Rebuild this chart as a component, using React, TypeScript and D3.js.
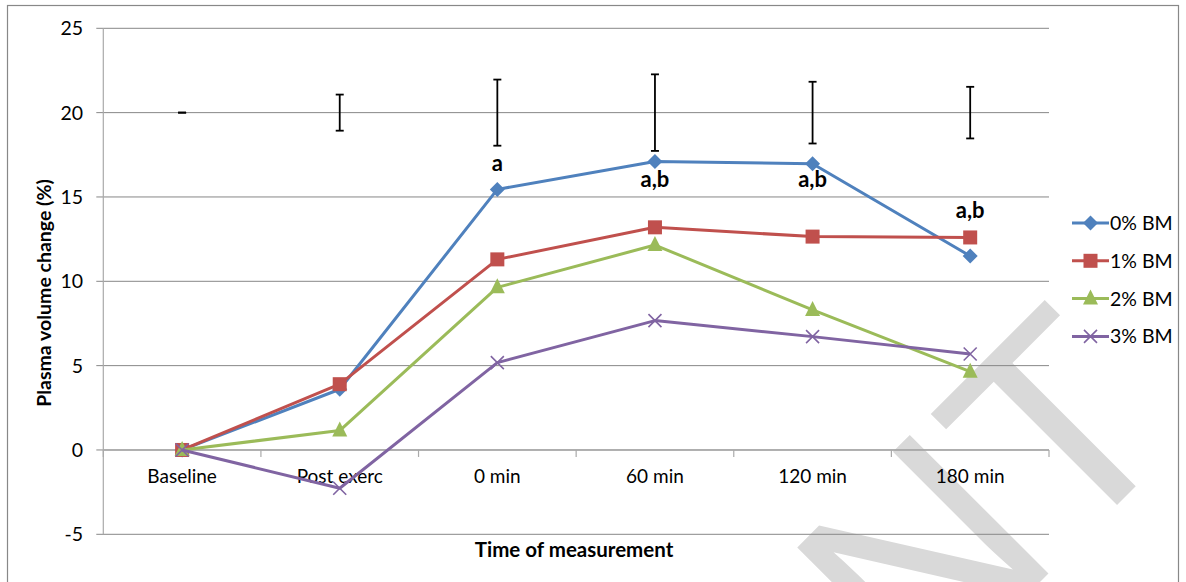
import React from "react";
import * as d3 from "d3";

const categories = ["Baseline", "Post exerc", "0 min", "60 min", "120 min", "180 min"];
const seriesNames = ["0% BM", "1% BM", "2% BM", "3% BM"];
const bm0 = [0, 3.6, 15.45, 17.1, 16.97, 11.5];
const bm1 = [0, 3.9, 11.3, 13.2, 12.65, 12.6];
const bm2 = [0, 1.15, 9.64, 12.15, 8.3, 4.64];
const bm3 = [0, -2.27, 5.18, 7.67, 6.72, 5.69];
const errMean = [20, 20, 20, 20, 20, 20];
const errSD = [0, 1.07, 1.96, 2.27, 1.83, 1.53];
const sigLabels = ["", "", "a", "a,b", "a,b", "a,b"];
const sigLabelValue = [null, null, 16.54, 15.6, 15.6, 13.75];
const yTicks = [-5, 0, 5, 10, 15, 20, 25];
const colors = ["#4F81BD", "#C0504D", "#9BBB59", "#8064A2"];
const markers = ["diamond", "square", "triangle", "x"];

const W = 1186;
const H = 582;
const left = 103.3;
const right = 1049;
const top = 28.3;
const bottom = 534.3;
const FONT = "Lato, 'Open Sans', sans-serif";
const GRID = "#878787";

function Marker({ type, x, y, color }: { type: string; x: number; y: number; color: string }) {
  if (type === "diamond") {
    const r = 7.5;
    return <path d={`M${x},${y - r}L${x + r},${y}L${x},${y + r}L${x - r},${y}Z`} fill={color} />;
  }
  if (type === "square") {
    const s = 14;
    return <rect x={x - s / 2} y={y - s / 2} width={s} height={s} fill={color} />;
  }
  if (type === "triangle") {
    const s = 15;
    return <path d={`M${x},${y - s * 0.6}L${x + s / 2},${y + s * 0.4}L${x - s / 2},${y + s * 0.4}Z`} fill={color} />;
  }
  const r = 6.5;
  return (
    <path d={`M${x - r},${y - r}L${x + r},${y + r}M${x - r},${y + r}L${x + r},${y - r}`} stroke={color} strokeWidth={1.6} fill="none" />
  );
}

export default function App() {
  const x = d3.scaleBand<string>().domain(categories).range([left, right]);
  const y = d3.scaleLinear().domain([-5, 25]).range([bottom, top]);
  const cx = (c: string) => (x(c) as number) + x.bandwidth() / 2;
  const series = [bm0, bm1, bm2, bm3];
  const line = d3
    .line<number>()
    .x((_, i) => cx(categories[i]))
    .y((d) => y(d));
  const bounds = [...categories.map((c) => x(c) as number), right];

  return (
    <svg width={W} height={H} style={{ position: "absolute", left: 0, top: 0, background: "#fff" }}>
      <defs>
        <clipPath id="pageClip">
          <rect x={0} y={0} width={W} height={H} />
        </clipPath>
      </defs>
      <rect x={0} y={0} width={W} height={H} fill="#fff" />
      <rect x={7.5} y={5.5} width={1171} height={600} fill="none" stroke="#888" strokeWidth={1.2} />
      {/* watermark */}
      <g clipPath="url(#pageClip)">
        <text
          transform="translate(1188,434) rotate(-45)"
          textAnchor="end"
          fontFamily="'Liberation Sans', Arial, sans-serif"
          fontSize={285}
          fill="#d9d9d9"
        >
          PREPRINT
        </text>
      </g>
      {/* gridlines */}
      {yTicks.map((t) => (
        <line key={t} x1={left - 7} x2={right} y1={y(t)} y2={y(t)} stroke={GRID} strokeWidth={1} />
      ))}
      <line x1={left} x2={left} y1={top} y2={bottom} stroke="#aaa" strokeWidth={1.2} />
      <line x1={left} x2={right} y1={y(0)} y2={y(0)} stroke="#aaa" strokeWidth={1.5} />
      {bounds.map((b, i) => (
        <line key={i} x1={b} x2={b} y1={y(0)} y2={y(0) + 7} stroke="#aaa" strokeWidth={1.2} />
      ))}
      {yTicks.map((t) => (
        <text key={t} x={83} y={y(t)} dy="0.36em" textAnchor="end" fontFamily={FONT} fontSize={19.5} fill="#000">
          {t}
        </text>
      ))}
      {categories.map((c) => (
        <text key={c} x={cx(c)} y={483} textAnchor="middle" fontFamily={FONT} fontSize={19} fill="#000">
          {c}
        </text>
      ))}
      <text x={574} y={557} textAnchor="middle" fontFamily={FONT} fontSize={20.5} fontWeight="bold" fill="#000">
        Time of measurement
      </text>
      <text
        transform={`translate(51,293) rotate(-90)`}
        textAnchor="middle"
        fontFamily={FONT}
        fontSize={19.5}
        fontWeight="bold"
        fill="#000"
      >
        Plasma volume change (%)
      </text>
      {/* error bars */}
      {categories.map((c, i) => {
        const xc = cx(c);
        const y1 = y(errMean[i] + errSD[i]);
        const y2 = y(errMean[i] - errSD[i]);
        return (
          <g key={c} stroke="#000" strokeWidth={1.8}>
            {errSD[i] > 0 && <line x1={xc} x2={xc} y1={y1} y2={y2} />}
            <line x1={xc - 4} x2={xc + 4} y1={y1} y2={y1} />
            <line x1={xc - 4} x2={xc + 4} y1={y2} y2={y2} />
          </g>
        );
      })}
      {/* series */}
      {series.map((s, si) => (
        <g key={si}>
          <path d={line(s) as string} fill="none" stroke={colors[si]} strokeWidth={3} strokeLinejoin="round" />
          {s.map((v, i) => (
            <Marker key={i} type={markers[si]} x={cx(categories[i])} y={y(v)} color={colors[si]} />
          ))}
        </g>
      ))}
      {/* significance labels */}
      {categories.map((c, i) =>
        sigLabels[i] && sigLabelValue[i] !== null ? (
          <text key={c} x={cx(c)} y={y(sigLabelValue[i] as number)} textAnchor="middle" fontFamily={FONT} fontSize={22} fontWeight="bold" fill="#000">
            {sigLabels[i]}
          </text>
        ) : null
      )}
      {/* legend */}
      {seriesNames.map((n, i) => {
        const ly = 223 + i * 37.8;
        return (
          <g key={n}>
            <line x1={1072} x2={1109} y1={ly} y2={ly} stroke={colors[i]} strokeWidth={3} />
            <Marker type={markers[i]} x={1090.5} y={ly} color={colors[i]} />
            <text x={1110} y={ly} dy="0.36em" fontFamily={FONT} fontSize={19.5} fill="#000">
              {n}
            </text>
          </g>
        );
      })}
    </svg>
  );
}
